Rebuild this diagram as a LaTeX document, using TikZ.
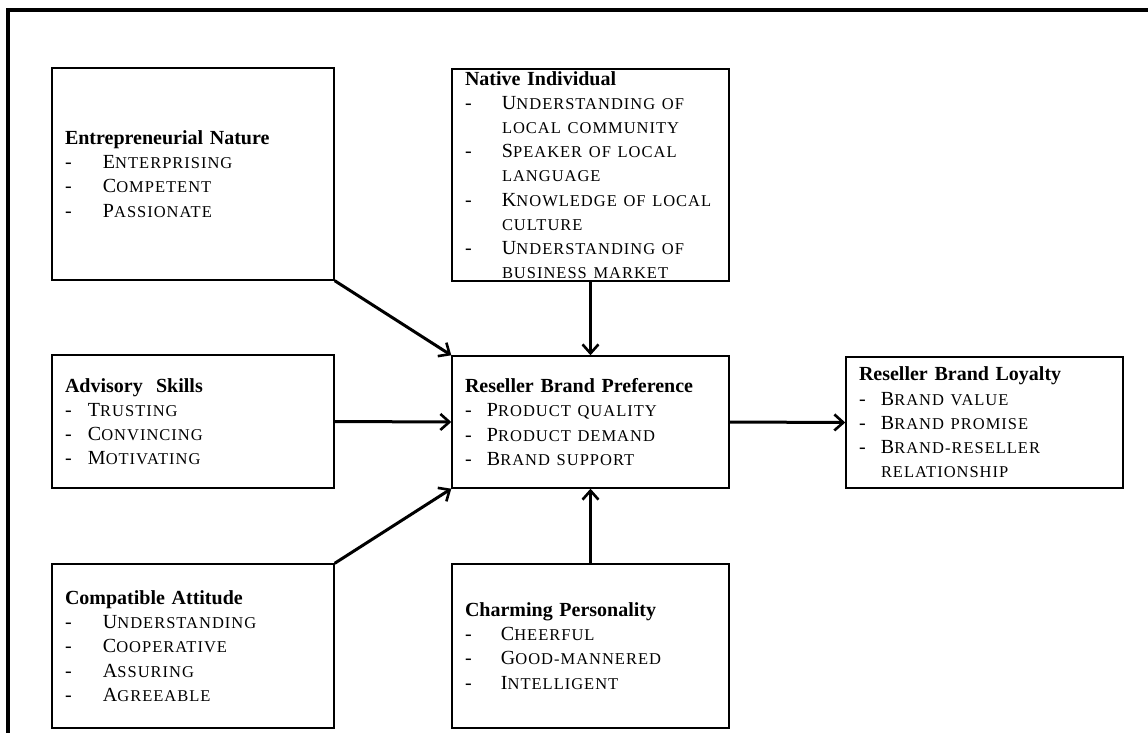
\documentclass[tikz,border=0pt]{standalone}
\usepackage{fontspec}
\setmainfont{Liberation Serif}
\newfontfamily\skfont[LetterSpace=6]{Liberation Serif}
\usepackage{tikz}
\usetikzlibrary{arrows.meta}

% small caps made by hand: first letter full size, rest smaller
\newcommand{\sk}[2]{#1{\skfont\fontsize{16.5}{24.2}\selectfont #2}}
\newcommand{\itm}[2]{\mbox{\makebox[#1][l]{-}#2}}
\newcommand{\more}[2]{\mbox{\hspace*{#1}#2}}

\begin{document}
\begin{tikzpicture}[x=1pt,y=-1pt,
	box/.style={draw, line width=1.4pt, rectangle, align=left, inner xsep=13pt, inner ysep=0pt, font=\fontsize{20}{24.2}\selectfont},
	wide/.style={text width=256pt},
	slim/.style={text width=251pt},
	arr/.style={-{Straight Barb[length=9pt,width=16pt,line width=2.6pt]}, line width=3pt}]
	
	\useasboundingbox (0,0) rectangle (1148,733);
	\draw[line width=3.5pt] (1148,10) -- (8,10) -- (8,733);
	
	\node[box, wide, minimum height=212pt] (entre) at (193,174) {\textbf{Entrepreneurial Nature}\\
		\itm{38pt}{\sk{E}{NTERPRISING}}\\
		\itm{38pt}{\sk{C}{OMPETENT}}\\
		\itm{38pt}{\sk{P}{ASSIONATE}}};
	
	\node[box, slim, minimum height=212pt] (native) at (590.5,175) {\textbf{Native Individual}\\
		\itm{37pt}{\sk{U}{NDERSTANDING OF}}\\
		\more{37pt}{\sk{}{LOCAL COMMUNITY}}\\
		\itm{37pt}{\sk{S}{PEAKER OF LOCAL}}\\
		\more{37pt}{\sk{}{LANGUAGE}}\\
		\itm{37pt}{\sk{K}{NOWLEDGE OF LOCAL}}\\
		\more{37pt}{\sk{}{CULTURE}}\\
		\itm{37pt}{\sk{U}{NDERSTANDING OF}}\\
		\more{37pt}{\sk{}{BUSINESS MARKET}}};
	
	\node[box, wide, minimum height=133pt] (advis) at (193,421.5) {\textbf{Advisory~~Skills}\\
		\itm{23pt}{\sk{T}{RUSTING}}\\
		\itm{23pt}{\sk{C}{ONVINCING}}\\
		\itm{23pt}{\sk{M}{OTIVATING}}};
	
	\node[box, slim, minimum height=132pt] (pref) at (590.5,422) {\textbf{Reseller Brand Preference}\\
		\itm{22pt}{\sk{P}{RODUCT QUALITY}}\\
		\itm{22pt}{\sk{P}{RODUCT DEMAND}}\\
		\itm{22pt}{\sk{B}{RAND SUPPORT}}};
	
	\node[box, slim, minimum height=131pt] (loyal) at (984.5,422.5) {\textbf{Reseller Brand Loyalty}\\
		\itm{22pt}{\sk{B}{RAND VALUE}}\\
		\itm{22pt}{\sk{B}{RAND PROMISE}}\\
		\itm{22pt}{\sk{B}{RAND-RESELLER}}\\
		\more{22pt}{\sk{}{RELATIONSHIP}}};
	
	\node[box, wide, minimum height=164pt] (compat) at (193,646) {\textbf{Compatible Attitude}\\
		\itm{38pt}{\sk{U}{NDERSTANDING}}\\
		\itm{38pt}{\sk{C}{OOPERATIVE}}\\
		\itm{38pt}{\sk{A}{SSURING}}\\
		\itm{38pt}{\sk{A}{GREEABLE}}};
	
	\node[box, slim, minimum height=164pt] (charm) at (590.5,646) {\textbf{Charming Personality}\\
		\itm{36pt}{\sk{C}{HEERFUL}}\\
		\itm{36pt}{\sk{G}{OOD-MANNERED}}\\
		\itm{36pt}{\sk{I}{NTELLIGENT}}};
	
	\draw[arr] (entre.south east) -- (pref.north west);
	\draw[arr] (native.south) -- (pref.north);
	\draw[arr] (advis.east) -- (pref.west);
	\draw[arr] (compat.north east) -- (pref.south west);
	\draw[arr] (charm.north) -- (pref.south);
	\draw[arr] (pref.east) -- (loyal.west);
	
\end{tikzpicture}
\end{document}
